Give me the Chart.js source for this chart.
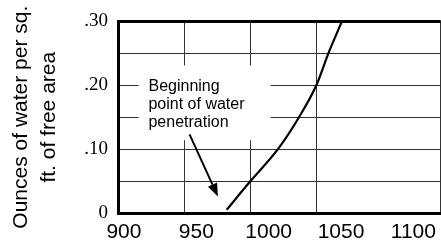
<!DOCTYPE html>
<html>
<head>
<meta charset="utf-8">
<script src="https://cdn.jsdelivr.net/npm/chart.js@4.4.1/dist/chart.umd.min.js"></script>
<style>
  html, body { margin: 0; padding: 0; background: #fff; }
  #wrap { width: 441px; height: 248px; }
</style>
</head>
<body>
<div id="wrap"><canvas id="myChart"></canvas></div>
<script>
// curve: x = temperature, y = ounces of water
var temps  = [982, 1000, 1020.7, 1036.6, 1049.7, 1058.8, 1069];
var ounces = [0.005, 0.05, 0.10, 0.15, 0.20, 0.25, 0.30];
var xTickLabels = [900, 950, 1000, 1050, 1100];
var yTickLabels = ['0', '.10', '.20', '.30'];
var yTitle = ['Ounces of water per sq.', 'ft. of free area'];
var noteLines = ['Beginning', 'point of water', 'penetration'];

var SANS = '"Liberation Sans", Arial, sans-serif';
var SERIF = '"Liberation Serif", "Times New Roman", serif';

// text box + arrow drawn over the grid
var notePlugin = {
  id: 'note',
  beforeDatasetsDraw: function(chart) {
    var c = chart.ctx, sx = chart.scales.x, sy = chart.scales.y;
    var l = sx.getPixelForValue(915.6), r = sx.getPixelForValue(1015.2);
    var t = sy.getPixelForValue(0.231), b = sy.getPixelForValue(0.114);
    c.save();
    c.fillStyle = '#fff';
    c.fillRect(l, t, r - l, b - t);
    c.restore();
  },
  afterDatasetsDraw: function(chart) {
    var c = chart.ctx, sx = chart.scales.x, sy = chart.scales.y;
    c.save();
    c.fillStyle = '#000';
    c.font = '16px ' + SANS;
    c.textBaseline = 'alphabetic';
    var tx = sx.getPixelForValue(923), ty = sy.getPixelForValue(0.191);
    noteLines.forEach(function(s, i) { c.fillText(s, tx, ty + i * 18); });

    // arrow
    var x0 = sx.getPixelForValue(954), y0 = sy.getPixelForValue(0.123);
    var x1 = sx.getPixelForValue(975.4), y1 = sy.getPixelForValue(0.026);
    var ang = Math.atan2(y1 - y0, x1 - x0), len = 13, hw = 5;
    var bx = x1 - len * Math.cos(ang), by = y1 - len * Math.sin(ang);
    c.strokeStyle = '#000';
    c.lineWidth = 2;
    c.beginPath(); c.moveTo(x0, y0); c.lineTo(bx, by); c.stroke();
    c.beginPath();
    c.moveTo(x1, y1);
    c.lineTo(bx + hw * Math.sin(ang), by - hw * Math.cos(ang));
    c.lineTo(bx - hw * Math.sin(ang), by + hw * Math.cos(ang));
    c.closePath(); c.fill();
    c.restore();
  }
};

var ctx = document.getElementById('myChart').getContext('2d');
var chart = new Chart(ctx, {
  type: 'line',
  data: {
    datasets: [{
      data: temps.map(function(t, i) { return { x: t, y: ounces[i] }; }),
      borderColor: '#000',
      borderWidth: 2.2,
      pointRadius: 0,
      cubicInterpolationMode: 'monotone',
      xAxisID: 'x',
      yAxisID: 'y'
    }]
  },
  options: {
    responsive: true,
    maintainAspectRatio: false,
    animation: false,
    layout: { padding: { top: 17, right: 0, bottom: 0, left: 0 } },
    plugins: { legend: { display: false }, tooltip: { enabled: false } },
    scales: {
      x: {
        type: 'linear', position: 'bottom', min: 900, max: 1143.6,
        ticks: { display: false, stepSize: 50 },
        grid: { color: '#333', lineWidth: 1, drawTicks: false },
        border: { color: '#000', width: 3 },
        afterFit: function(s) { s.height = 2; }
      },
      xl: {
        type: 'linear', position: 'bottom', min: 895.9, max: 1118.9,
        afterBuildTicks: function(s) { s.ticks = xTickLabels.map(function(v) { return { value: v }; }); },
        ticks: {
          font: { family: SANS, size: 21 }, color: '#000', padding: 5, maxRotation: 0, autoSkip: false,
          callback: function(v) { return String(v); }
        },
        grid: { display: false, drawTicks: false },
        border: { display: false },
        afterFit: function(s) { s.height = 33; }
      },
      y: {
        min: 0, max: 0.3,
        ticks: {
          stepSize: 0.05,
          font: { family: SERIF, size: 19 }, color: '#000', padding: 10,
          callback: function(v) {
            var k = Math.round(v * 100);
            return k % 10 === 0 ? yTickLabels[k / 10] : '';
          }
        },
        grid: {
          color: function(c) { return c.tick.value >= 0.299 ? '#000' : '#333'; },
          lineWidth: function(c) { return c.tick.value >= 0.299 ? 3 : 1; },
          drawTicks: false
        },
        border: { color: '#000', width: 3 },
        title: { display: true, text: yTitle, color: '#000', font: { family: SANS, size: 21, lineHeight: 1.3 }, padding: { top: 8, bottom: 0 } },
        afterFit: function(s) { s.width = 118; }
      }
    }
  },
  plugins: [notePlugin]
});
</script>
</body>
</html>
